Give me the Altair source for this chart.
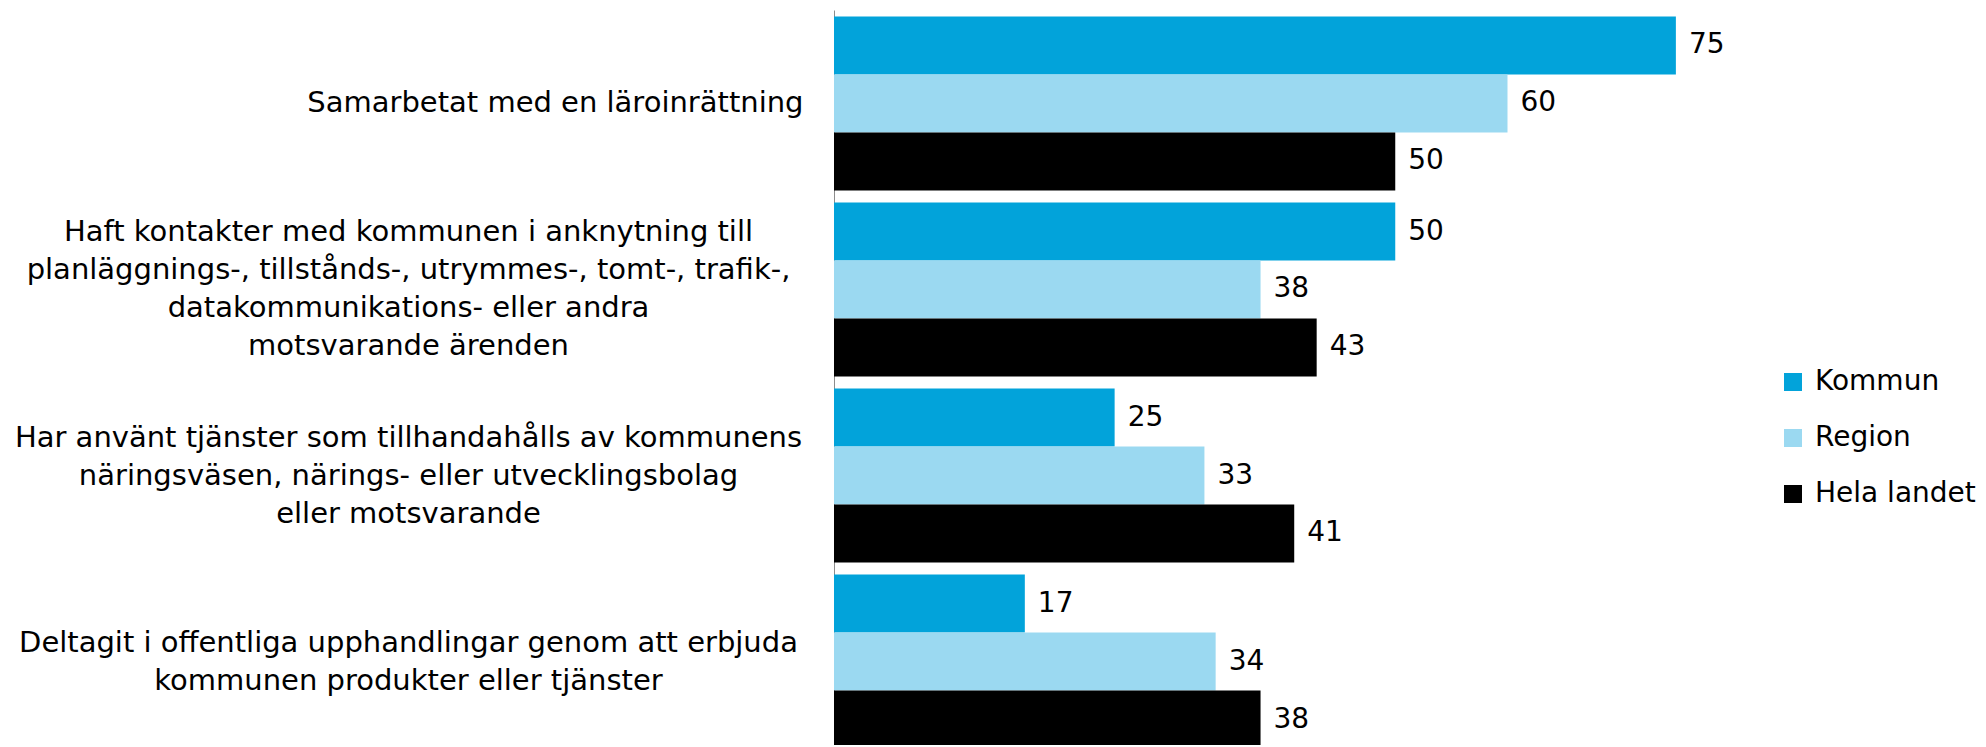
import altair as alt
import pandas as pd

categories = [
    "Samarbetat med en läroinrättning",
    "Haft kontakter med kommunen i anknytning till|planläggnings-, tillstånds-, utrymmes-, tomt-, trafik-,|datakommunikations- eller andra|motsvarande ärenden",
    "Har använt tjänster som tillhandahålls av kommunens|näringsväsen, närings- eller utvecklingsbolag|eller motsvarande",
    "Deltagit i offentliga upphandlingar genom att erbjuda|kommunen produkter eller tjänster",
]
series = ["Kommun", "Region", "Hela landet"]
kommun = [75, 50, 25, 17]
region = [60, 38, 33, 34]
hela_landet = [50, 43, 41, 38]
colors = ["#02A3DA", "#9BD9F1", "#000000"]

rows = []
for i, c in enumerate(categories):
    for s, vals in zip(series, [kommun, region, hela_landet]):
        rows.append({"cat": c, "serie": s, "value": vals[i]})
df = pd.DataFrame(rows)

FONT = "DejaVu Sans"
LH = 38
ONE_LINE = "indexof(datum.value, '|') < 0"

y_enc = alt.Y(
    "cat:N",
    sort=categories,
    scale=alt.Scale(paddingInner=0.065, paddingOuter=0.035),
    axis=alt.Axis(
        title=None,
        ticks=False,
        domainColor="#8c8c8c",
        domainWidth=1,
        labelFont=FONT,
        labelFontSize=29,
        labelColor="#000000",
        labelLineHeight=LH,
        labelLimit=0,
        labelExpr="split(datum.label, '|')",
        labelAlign={"condition": {"test": ONE_LINE, "value": "right"}, "value": "center"},
        labelPadding={"condition": {"test": ONE_LINE, "value": 31}, "value": 426},
        labelOffset={
            "condition": [
                {"test": "length(split(datum.value, '|')) == 4", "value": -1.5 * LH},
                {"test": "length(split(datum.value, '|')) == 3", "value": -1.0 * LH},
                {"test": "length(split(datum.value, '|')) == 2", "value": -0.5 * LH},
            ],
            "value": 0,
        },
    ),
)
yoff = alt.YOffset("serie:N", sort=series, scale=alt.Scale(paddingInner=0, paddingOuter=0))
x_enc = alt.X("value:Q", scale=alt.Scale(domain=[0, 80]), axis=None)

bars = alt.Chart(df).mark_bar().encode(
    y=y_enc,
    yOffset=yoff,
    x=x_enc,
    color=alt.Color(
        "serie:N",
        sort=series,
        scale=alt.Scale(domain=series, range=colors),
        legend=alt.Legend(
            title=None,
            orient="none",
            legendX=945,
            legendY=358,
            symbolType="square",
            symbolSize=324,
            symbolStrokeWidth=0,
            labelFont=FONT,
            labelFontSize=28,
            labelColor="#000000",
            labelOffset=8,
            labelLimit=0,
            rowPadding=28,
        ),
    ),
)

labels = alt.Chart(df).mark_text(
    align="left", baseline="middle", dx=13, font=FONT, fontSize=28, color="#000000"
).encode(
    y=alt.Y("cat:N", sort=categories),
    yOffset=yoff,
    x=x_enc,
    text=alt.Text("value:Q"),
)

chart = (
    alt.layer(bars, labels)
    .properties(
        width=898,
        height=745,
        autosize=alt.AutoSizeParams(type="none"),
        padding={"left": 826, "top": 2, "right": 246, "bottom": -10},
    )
    .configure_view(stroke=None)
)

chart.save("out.html", embed_options={"renderer": "svg", "actions": False})
